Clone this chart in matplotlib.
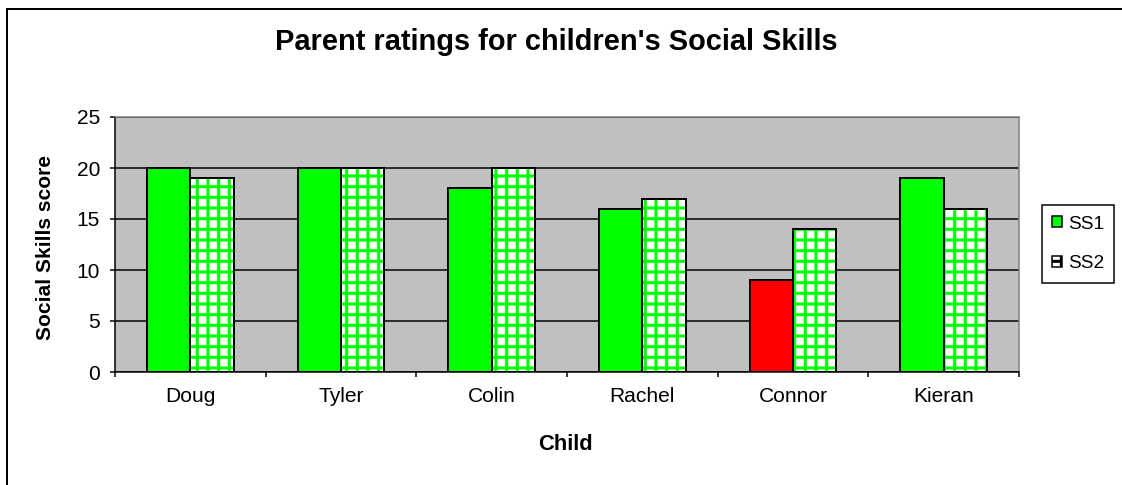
import numpy as np
import matplotlib
matplotlib.use("Agg")
import matplotlib.pyplot as plt
from matplotlib.patches import Patch
from matplotlib.lines import Line2D

children = ["Doug", "Tyler", "Colin", "Rachel", "Connor", "Kieran"]
ss1 = [20, 20, 18, 16, 9, 19]
ss2 = [19, 20, 20, 17, 14, 16]
ss1_colors = ["#00ff00", "#00ff00", "#00ff00", "#00ff00", "#ff0000", "#00ff00"]

DPI = 128
W, H = 1122, 485


def px(v):
    # pixel size -> points at this dpi
    return v * 72.0 / DPI


plt.rcParams["font.family"] = ["Liberation Sans", "DejaVu Sans"]
plt.rcParams["hatch.linewidth"] = px(3)

fig = plt.figure(figsize=(W / DPI, H / DPI), dpi=DPI)
ax = fig.add_axes([115 / W, 1 - 372 / H, (1019 - 115) / W, (372 - 117) / H])
ax.set_facecolor("#c0c0c0")

x = np.arange(len(children))
w = 0.287

ax.set_axisbelow(True)
ax.yaxis.grid(True, color="black", linewidth=px(1.5))

ax.bar(x - w / 2, ss1, w, color=ss1_colors, edgecolor="black", linewidth=px(2), zorder=3)
# checkered SS2 bars: green hatch on white, black outline on top
ax.bar(x + w / 2, ss2, w, color="white", edgecolor="#00ff00", hatch="++", linewidth=0, zorder=3)
ax.bar(x + w / 2, ss2, w, fill=False, edgecolor="black", linewidth=px(2), zorder=4)

ax.set_xlim(-0.5, len(children) - 0.5)
ax.set_ylim(0, 25)
ax.set_yticks(range(0, 26, 5))
ax.set_xticks(np.arange(len(children) + 1) - 0.5, labels=[""] * (len(children) + 1))
ax.set_xticks(x, labels=children, minor=True)

ax.tick_params(axis="both", which="major", direction="out", length=px(5), width=px(1.5),
               color="black", labelsize=px(21))
ax.tick_params(axis="y", pad=px(10))
ax.tick_params(axis="x", which="minor", length=0, pad=px(15), labelsize=px(21))

for side in ["left", "bottom"]:
    ax.spines[side].set_color("black")
    ax.spines[side].set_linewidth(px(1.5))
for side in ["top", "right"]:
    ax.spines[side].set_color("#808080")
    ax.spines[side].set_linewidth(px(1.5))

fig.text(556 / W, 1 - 42 / H, "Parent ratings for children's Social Skills",
         ha="center", va="center", fontsize=px(29), fontweight="bold")
fig.text(46 / W, 1 - 247 / H, "Social Skills score", rotation=90,
         ha="center", va="center", fontsize=px(21), fontweight="bold")
fig.text(565 / W, 1 - 445 / H, "Child", ha="center", va="center",
         fontsize=px(22), fontweight="bold")

handles = [
    Patch(facecolor="#00ff00", edgecolor="black", linewidth=px(1.5)),
    Patch(facecolor="#00ff00", edgecolor="black", linewidth=px(1.5)),
]
leg = fig.legend(handles, ["SS1", "SS2"], loc="center left",
                 bbox_to_anchor=(1042 / W, 1 - 244 / H), borderaxespad=0,
                 fontsize=px(19), handlelength=0.5, handleheight=0.5,
                 handletextpad=0.3, labelspacing=1.2, borderpad=0.55,
                 fancybox=False, framealpha=1)
leg.get_frame().set_edgecolor("black")
leg.get_frame().set_linewidth(px(1.5))
# small checkered key for SS2
ss2_key = leg.legend_handles[1]
ss2_key.set_facecolor("white")
ss2_key.set_hatch("++")

# chart frame
fig.add_artist(Line2D([7 / W, 7 / W], [0, 1 - 9 / H], color="black", linewidth=px(2)))
fig.add_artist(Line2D([7 / W, 1], [1 - 9 / H, 1 - 9 / H], color="black", linewidth=px(2)))

fig.savefig("out.png", dpi=DPI)
